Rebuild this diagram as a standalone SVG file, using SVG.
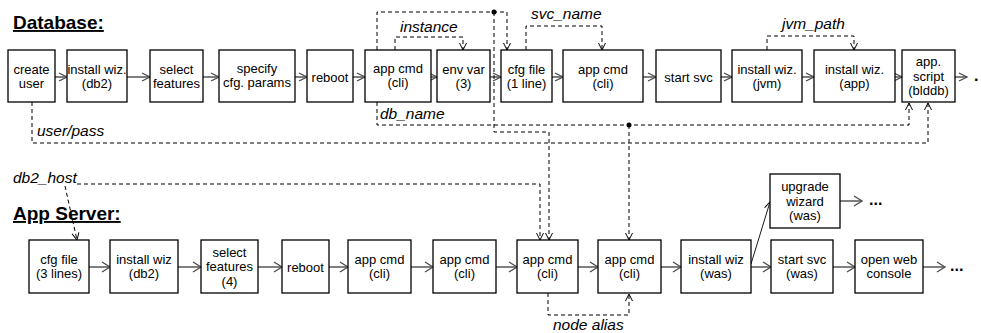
<svg xmlns="http://www.w3.org/2000/svg" width="981" height="333" viewBox="0 0 981 333">
<style>
.box rect{fill:#fff;stroke:#000;stroke-width:1.3}
.box text{font-family:"Liberation Sans",Arial,sans-serif;font-size:13px;fill:#000;text-anchor:middle}
.flow{fill:none;stroke:#4a4a4a;stroke-width:1.4}
.dash{fill:none;stroke:#000;stroke-width:1;stroke-dasharray:4,3}
.thin{fill:none;stroke:#000;stroke-width:0.9}
.lbl{font-family:"Liberation Sans",Arial,sans-serif;font-size:15.5px;font-style:italic;fill:#000}
.title{font-family:"Liberation Sans",Arial,sans-serif;font-size:19px;font-weight:bold;text-decoration:underline;fill:#000}
.more{font-family:"Liberation Sans",Arial,sans-serif;font-size:16px;font-weight:bold;fill:#000}
</style>
<defs>
<marker id="hs" markerUnits="userSpaceOnUse" markerWidth="10" markerHeight="10" refX="8" refY="4" orient="auto" overflow="visible"><path d="M0,0 L8,4 L0,8" fill="none" stroke="#4a4a4a" stroke-width="1.3"/></marker>
<marker id="hb" markerUnits="userSpaceOnUse" markerWidth="10" markerHeight="12" refX="8" refY="5" orient="auto" overflow="visible"><path d="M0,0 L8,5 L0,10" fill="none" stroke="#4a4a4a" stroke-width="1.3"/></marker>
<marker id="hd" markerUnits="userSpaceOnUse" markerWidth="10" markerHeight="10" refX="7" refY="3.5" orient="auto" overflow="visible"><path d="M0,0 L7,3.5 L0,7" fill="none" stroke="#000" stroke-width="1"/></marker>
</defs>

<text class="title" x="13" y="29">Database:</text>
<text class="title" x="13" y="220">App Server:</text>

<g id="connectors">
  <path class="flow" marker-end="url(#hs)" d="M55,77 H67"/>
  <path class="flow" marker-end="url(#hs)" d="M127,77 H150"/>
  <path class="flow" marker-end="url(#hs)" d="M203,77 H219"/>
  <path class="flow" marker-end="url(#hs)" d="M295,77 H307"/>
  <path class="flow" marker-end="url(#hs)" d="M353,77 H365"/>
  <path class="flow" marker-end="url(#hs)" d="M431,77 H437"/>
  <path class="flow" marker-end="url(#hs)" d="M490,77 H501"/>
  <path class="flow" marker-end="url(#hs)" d="M552,77 H563"/>
  <path class="flow" marker-end="url(#hs)" d="M643,77 H656"/>
  <path class="flow" marker-end="url(#hs)" d="M721,77 H732"/>
  <path class="flow" marker-end="url(#hs)" d="M802,77 H814"/>
  <path class="flow" marker-end="url(#hs)" d="M895,77 H902"/>
  <path class="flow" marker-end="url(#hs)" d="M955,77 H967"/>
  <path class="flow" marker-end="url(#hb)" d="M89,267 H110"/>
  <path class="flow" marker-end="url(#hb)" d="M178,267 H201"/>
  <path class="flow" marker-end="url(#hb)" d="M258,267 H282"/>
  <path class="flow" marker-end="url(#hb)" d="M329,267 H348"/>
  <path class="flow" marker-end="url(#hb)" d="M411,267 H433"/>
  <path class="flow" marker-end="url(#hb)" d="M496,267 H517"/>
  <path class="flow" marker-end="url(#hb)" d="M578,267 H598"/>
  <path class="flow" marker-end="url(#hb)" d="M661,267 H681"/>
  <path class="flow" marker-end="url(#hb)" d="M751,267 H771"/>
  <path class="flow" marker-end="url(#hb)" d="M833,267 H855"/>
  <path class="flow" marker-end="url(#hb)" d="M923,267 H945"/>
  <path class="flow" marker-end="url(#hb)" d="M840,201 H862"/>
  <path class="thin" marker-end="url(#hd)" d="M751,264 L770,202"/>
  <path class="dash" marker-end="url(#hd)" d="M377,50 V12 H507 V50"/>
  <path class="dash" marker-end="url(#hd)" d="M494,12 V132 H549 V240"/>
  <path class="dash" marker-end="url(#hd)" d="M395,50 V37 H463 V50"/>
  <path class="dash" marker-end="url(#hd)" d="M526,50 V26 H602 V50"/>
  <path class="dash" marker-end="url(#hd)" d="M767,50 V36 H854 V50"/>
  <path class="dash" marker-end="url(#hd)" d="M377,102 V125 H909 V103"/>
  <path class="dash" marker-end="url(#hd)" d="M629,125 V240"/>
  <path class="dash" marker-end="url(#hd)" d="M32,102 V143 H928 V103"/>
  <path class="dash" marker-end="url(#hd)" d="M77,184 H540 V240"/>
  <path class="dash" marker-end="url(#hd)" d="M65,186 L77,240"/>
  <path class="dash" marker-end="url(#hd)" d="M548,293 V315 H629 V294"/>
  <circle cx="494" cy="12" r="2.5" fill="#000"/>
  <circle cx="629" cy="125" r="2.5" fill="#000"/>
  <text class="lbl" x="400" y="32">instance</text>
  <text class="lbl" x="531" y="19">svc_name</text>
  <text class="lbl" x="782" y="29">jvm_path</text>
  <text class="lbl" x="380" y="119">db_name</text>
  <text class="lbl" x="37" y="136">user/pass</text>
  <text class="lbl" x="13" y="183">db2_host</text>
  <text class="lbl" x="553" y="330">node alias</text>
  <text class="more" x="974" y="81">.</text>
  <text class="more" x="869" y="205">...</text>
  <text class="more" x="950" y="271">...</text>
</g>

<g id="db-create-user" class="box"><rect x="8" y="50" width="47" height="52"/><text x="31.5" y="73.5">create<tspan x="31.5" dy="14.6">user</tspan></text></g>
<g id="db-install-wiz" class="box"><rect x="67" y="50" width="60" height="52"/><text x="97" y="73.5">install wiz.<tspan x="97" dy="14.6">(db2)</tspan></text></g>
<g id="db-select-features" class="box"><rect x="150" y="50" width="53" height="52"/><text x="176.5" y="73.5">select<tspan x="176.5" dy="14.6">features</tspan></text></g>
<g id="db-specify" class="box"><rect x="219" y="50" width="76" height="52"/><text x="257" y="72.5">specify<tspan x="257" dy="14.6">cfg. params</tspan></text></g>
<g id="db-reboot" class="box"><rect x="307" y="50" width="46" height="52"/><text x="330" y="81.5">reboot</text></g>
<g id="db-app-cmd-1" class="box"><rect x="365" y="50" width="66" height="52"/><text x="398" y="72.5">app cmd<tspan x="398" dy="14.6">(cli)</tspan></text></g>
<g id="db-env-var" class="box"><rect x="437" y="50" width="53" height="52"/><text x="463.5" y="73.5">env var<tspan x="463.5" dy="14.6">(3)</tspan></text></g>
<g id="db-cfg-file" class="box"><rect x="501" y="50" width="51" height="52"/><text x="526.5" y="73.5">cfg file<tspan x="526.5" dy="14.6">(1 line)</tspan></text></g>
<g id="db-app-cmd-2" class="box"><rect x="563" y="50" width="80" height="52"/><text x="603" y="73.5">app cmd<tspan x="603" dy="14.6">(cli)</tspan></text></g>
<g id="db-start-svc" class="box"><rect x="656" y="50" width="65" height="52"/><text x="688.5" y="81.5">start svc</text></g>
<g id="db-install-jvm" class="box"><rect x="732" y="50" width="70" height="52"/><text x="767" y="73.5">install wiz.<tspan x="767" dy="14.6">(jvm)</tspan></text></g>
<g id="db-install-app" class="box"><rect x="814" y="50" width="81" height="52"/><text x="854.5" y="73.5">install wiz.<tspan x="854.5" dy="14.6">(app)</tspan></text></g>
<g id="db-app-script" class="box"><rect x="902" y="50" width="53" height="52"/><text x="928.5" y="66">app.<tspan x="928.5" dy="14.6">script</tspan><tspan x="928.5" dy="14.6">(blddb)</tspan></text></g>

<g id="as-cfg-file" class="box"><rect x="29" y="240" width="60" height="53"/><text x="59" y="263.5">cfg file<tspan x="59" dy="14.6">(3 lines)</tspan></text></g>
<g id="as-install-db2" class="box"><rect x="110" y="240" width="68" height="53"/><text x="144" y="263.5">install wiz<tspan x="144" dy="14.6">(db2)</tspan></text></g>
<g id="as-select-features" class="box"><rect x="201" y="240" width="57" height="53"/><text x="229.5" y="256.5">select<tspan x="229.5" dy="14.6">features</tspan><tspan x="229.5" dy="14.6">(4)</tspan></text></g>
<g id="as-reboot" class="box"><rect x="282" y="240" width="47" height="53"/><text x="305.5" y="271.5">reboot</text></g>
<g id="as-app-cmd-1" class="box"><rect x="348" y="240" width="63" height="53"/><text x="379.5" y="263.5">app cmd<tspan x="379.5" dy="14.6">(cli)</tspan></text></g>
<g id="as-app-cmd-2" class="box"><rect x="433" y="240" width="63" height="53"/><text x="464.5" y="263.5">app cmd<tspan x="464.5" dy="14.6">(cli)</tspan></text></g>
<g id="as-app-cmd-3" class="box"><rect x="517" y="240" width="61" height="53"/><text x="547.5" y="263.5">app cmd<tspan x="547.5" dy="14.6">(cli)</tspan></text></g>
<g id="as-app-cmd-4" class="box"><rect x="598" y="240" width="63" height="53"/><text x="629.5" y="263.5">app cmd<tspan x="629.5" dy="14.6">(cli)</tspan></text></g>
<g id="as-install-was" class="box"><rect x="681" y="240" width="70" height="53"/><text x="716" y="263.5">install wiz<tspan x="716" dy="14.6">(was)</tspan></text></g>
<g id="as-start-svc" class="box"><rect x="771" y="240" width="62" height="53"/><text x="802" y="263.5">start svc<tspan x="802" dy="14.6">(was)</tspan></text></g>
<g id="as-open-console" class="box"><rect x="855" y="240" width="68" height="53"/><text x="889" y="263.5">open web<tspan x="889" dy="14.6">console</tspan></text></g>
<g id="as-upgrade-wizard" class="box"><rect x="770" y="174" width="70" height="54"/><text x="805" y="191">upgrade<tspan x="805" dy="14.6">wizard</tspan><tspan x="805" dy="14.6">(was)</tspan></text></g>
</svg>
